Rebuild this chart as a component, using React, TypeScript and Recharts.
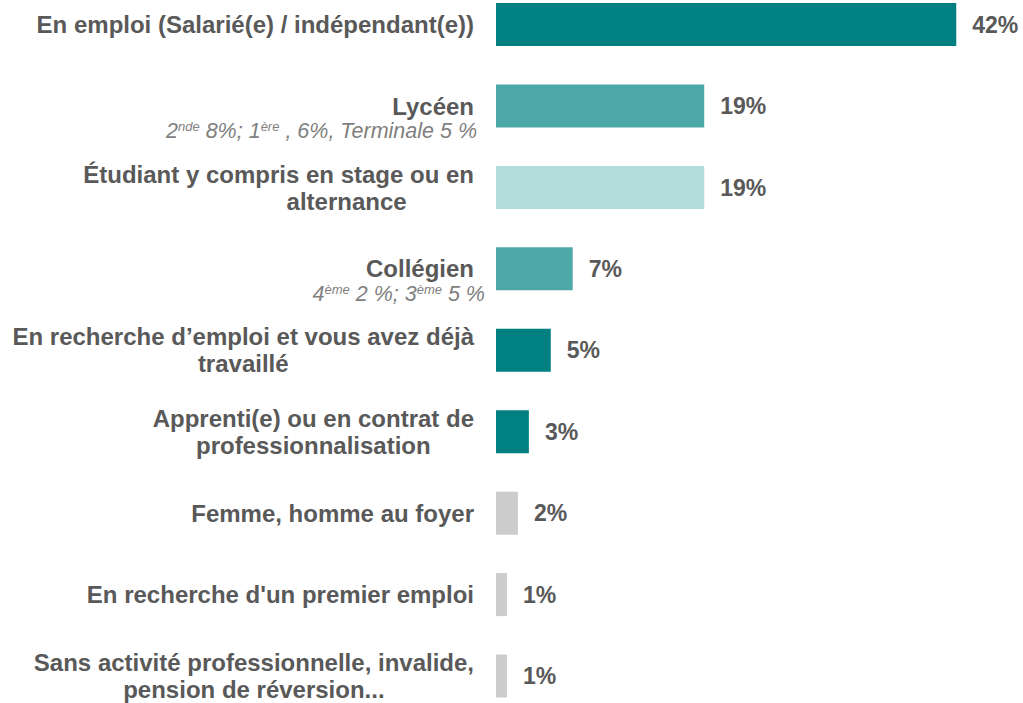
import React from "react";
import { BarChart, Bar, XAxis, YAxis, Cell, LabelList } from "recharts";

const categories = [
  "En emploi (Salarié(e) / indépendant(e))",
  "Lycéen",
  "Étudiant y compris en stage ou en|alternance",
  "Collégien",
  "En recherche d’emploi et vous avez déjà|travaillé",
  "Apprenti(e) ou en contrat de|professionnalisation",
  "Femme, homme au foyer",
  "En recherche d'un premier emploi",
  "Sans activité professionnelle, invalide,|pension de réversion...",
];
const values = [42, 19, 19, 7, 5, 3, 2, 1, 1];
const barColors = [
  "#008080",
  "#4da8a8",
  "#b3dcdc",
  "#4da8a8",
  "#008080",
  "#008080",
  "#cccccc",
  "#cccccc",
  "#cccccc",
];
// sous-libellés : [texte, exposant?]
const subLabels: Record<number, [string, boolean][]> = {
  1: [["2", false], ["nde", true], [" 8%; 1", false], ["ère", true], [" , 6%, Terminale 5 %", false]],
  3: [["4", false], ["ème", true], [" 2 %; 3", false], ["ème", true], [" 5 %", false]],
};

const data = categories.map((name, i) => ({ name, value: values[i] }));

const FONT = "'Liberation Sans', Arial, sans-serif";
const TEXT = "#595959";
const LABEL_RIGHT = 474;
const CAT_SIZE = 24;

let ctx: CanvasRenderingContext2D | null = null;
const measure = (t: string) => {
  if (!ctx) ctx = document.createElement("canvas").getContext("2d");
  if (!ctx) return t.length * 11;
  ctx.font = `bold ${CAT_SIZE}px ${FONT}`;
  return ctx.measureText(t).width;
};

const subRight: Record<number, number> = { 1: 477, 3: 485 };
const line2Shift: Record<number, number> = { 2: 68 };

const CategoryTick = (props: any) => {
  const { y, payload } = props;
  const i = categories.indexOf(payload.value);
  const lines = String(payload.value).split("|");
  const sub = subLabels[i];
  const txt = { fill: TEXT, fontSize: CAT_SIZE, fontWeight: "bold", fontFamily: FONT };
  if (sub) {
    return (
      <g>
        <text x={LABEL_RIGHT} y={y} dy="0.35em" textAnchor="end" {...txt}>
          {lines[0]}
        </text>
        <text x={subRight[i]} y={y + 32} textAnchor="end" fill="#7f7f7f" fontSize={21.5} fontStyle="italic" fontFamily={FONT}>
          {sub.map(([s, sup], k) => (
            <tspan
              key={k}
              fontSize={sup ? 13 : 21.5}
              dy={sup ? -7 : k > 0 && sub[k - 1][1] ? 7 : undefined}
            >
              {s}
            </tspan>
          ))}
        </text>
      </g>
    );
  }
  if (lines.length === 1) {
    return (
      <text x={LABEL_RIGHT} y={y} dy="0.35em" textAnchor="end" {...txt}>
        {lines[0]}
      </text>
    );
  }
  const w = measure(lines[0]);
  const cx = LABEL_RIGHT - w / 2 + (line2Shift[i] || 0);
  return (
    <g>
      <text x={LABEL_RIGHT} y={y - 13.5} dy="0.35em" textAnchor="end" {...txt}>
        {lines[0]}
      </text>
      <text x={cx} y={y + 13.5} dy="0.35em" textAnchor="middle" {...txt}>
        {lines[1]}
      </text>
    </g>
  );
};

export default function App() {
  return (
    <div style={{ position: "absolute", left: 0, top: 0, background: "#fff" }}>
      <BarChart
        width={1023}
        height={703}
        data={data}
        layout="vertical"
        margin={{ top: -16, right: 1, bottom: -14, left: 0 }}
      >
        <XAxis type="number" domain={[0, 48]} hide />
        <YAxis
          type="category"
          dataKey="name"
          width={496}
          interval={0}
          tickLine={false}
          axisLine={false}
          tick={<CategoryTick />}
        />
        <Bar dataKey="value" barSize={43} isAnimationActive={false}>
          {data.map((d, i) => (
            <Cell key={d.name} fill={barColors[i]} />
          ))}
          <LabelList
            dataKey="value"
            position="right"
            offset={16}
            formatter={(v: any) => `${v}%`}
            fill={TEXT}
            fontSize={23}
            fontWeight="bold"
            fontFamily={FONT}
          />
        </Bar>
      </BarChart>
    </div>
  );
}
